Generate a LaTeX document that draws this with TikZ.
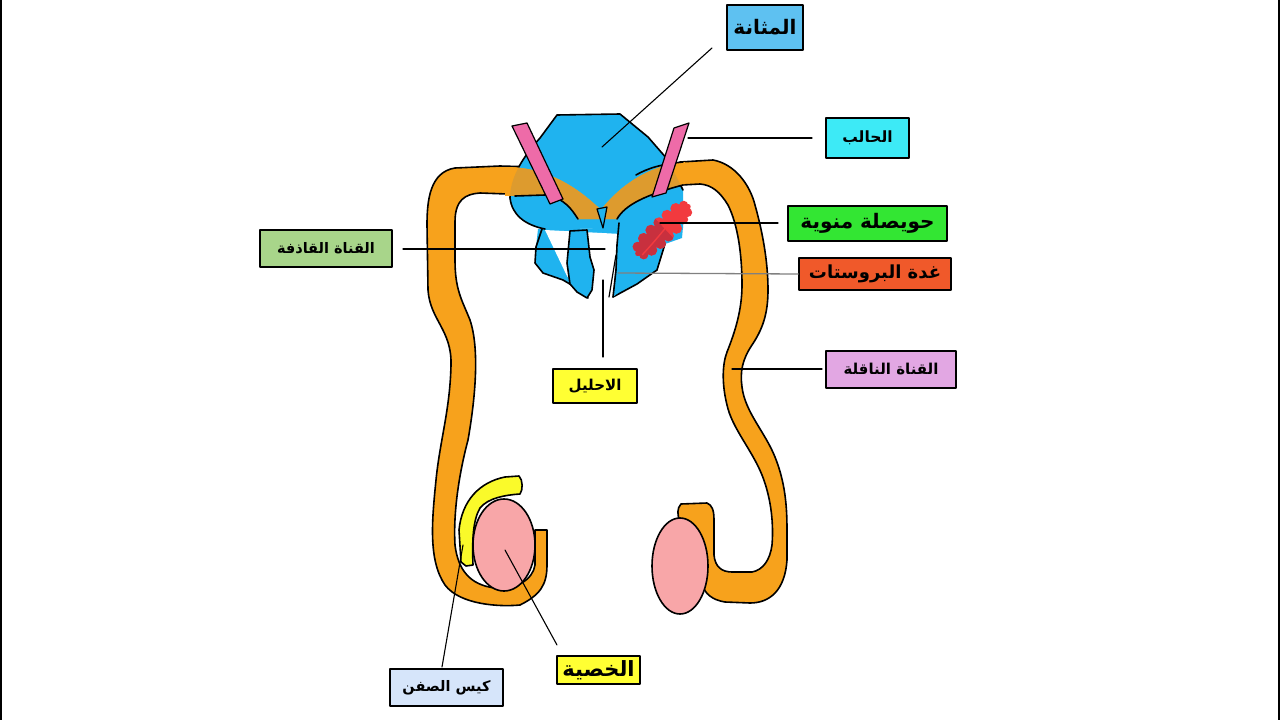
\documentclass[tikz,border=0pt]{standalone}
\usepackage{fontspec}
\newfontfamily\arabicfont[Script=Arabic]{DejaVu Sans}
\TeXXeTstate=1
\definecolor{orng}{HTML}{F7A21C}
\definecolor{orngD}{HTML}{DD9B2E}
\definecolor{blu}{HTML}{1FB3EF}
\definecolor{pnk}{HTML}{EE6BA8}
\definecolor{tstc}{HTML}{F8A6A8}
\definecolor{ylw}{HTML}{FAFA2A}
\definecolor{redA}{HTML}{F23A3E}
\definecolor{redB}{HTML}{C8303E}
\definecolor{cBladder}{HTML}{5EC1F1}
\definecolor{cUreter}{HTML}{3DEAF6}
\definecolor{cVes}{HTML}{33E633}
\definecolor{cPro}{HTML}{F0592A}
\definecolor{cEj}{HTML}{A8D58A}
\definecolor{cYel}{HTML}{FFFF33}
\definecolor{cVas}{HTML}{E2A7E3}
\definecolor{cScr}{HTML}{D6E5FA}
\newcommand\vesshape{(0,0) ellipse [x radius=37, y radius=8]
 (-30,-5) circle [radius=5] (-20,-7) circle [radius=5.5] (-9,-8) circle [radius=5.5]
 (2,-8) circle [radius=5.5] (13,-8) circle [radius=5.5] (24,-7) circle [radius=5.5] (32,-4) circle [radius=4.5]
 (-31,5) circle [radius=4.5] (-22,7) circle [radius=5.5] (-11,8) circle [radius=5.5]
 (0,8) circle [radius=5.5] (11,8) circle [radius=5.5] (22,6) circle [radius=5] (30,4) circle [radius=4.5]}
\begin{document}
\begin{tikzpicture}[x=1pt,y=-1pt,line join=round,line cap=round,
  outl/.style={draw=black,line width=1.6pt},
  thin/.style={draw=black,line width=1.2pt},
  conn/.style={draw=black,line width=1.1pt},
  lbl/.style={draw=black,line width=1.5pt,inner sep=0pt,text=black}]
\useasboundingbox (0,0) rectangle (1280,720);
\fill[white] (0,0) rectangle (1280,720);
\draw[black,line width=2pt] (1,0) -- (1,720);
\draw[black,line width=2.5pt] (1279,0) -- (1279,720);

% left vas deferens
\path[fill=orng,outl] (535,167) -- (500,166) -- (455,168) .. controls (430,172) and (427,200) .. (427,225)
 -- (428,290) .. controls (430,320) and (452,330) .. (451,365)
 .. controls (450,410) and (440,440) .. (436,480)
 .. controls (432,520) and (428,560) .. (445,585)
 .. controls (460,605) and (500,607) .. (520,605)
 .. controls (540,595) and (547,585) .. (547,565) -- (547,530) -- (535,530) -- (535,565)
 .. controls (533,580) and (515,590) .. (495,588)
 .. controls (470,585) and (458,570) .. (455,545)
 .. controls (453,510) and (460,470) .. (468,440)
 .. controls (475,400) and (480,350) .. (470,320)
 .. controls (462,300) and (455,290) .. (455,260) -- (455,222)
 .. controls (455,200) and (465,194) .. (480,193) -- (535,195) -- cycle;

% right vas deferens
\path[fill=orng,outl] (680,162) -- (713,160) .. controls (735,164) and (750,185) .. (755,205)
 .. controls (762,230) and (768,260) .. (768,290) .. controls (768,315) and (762,330) .. (752,345)
 .. controls (742,360) and (740,372) .. (742,387) .. controls (745,412) and (765,432) .. (775,457)
 .. controls (785,482) and (787,505) .. (787,530) -- (787,560)
 .. controls (785,590) and (770,603) .. (750,603) -- (725,602)
 .. controls (712,600) and (704,593) .. (703,585) -- (700,535) -- (690,523) -- (680,521)
 .. controls (677,515) and (677,508) .. (681,504) -- (707,503)
 .. controls (712,505) and (714,510) .. (714,520) -- (714,555)
 .. controls (715,567) and (722,572) .. (732,572) -- (752,572)
 .. controls (763,570) and (770,560) .. (772,545) .. controls (774,520) and (770,495) .. (762,475)
 .. controls (752,450) and (732,428) .. (727,405) .. controls (722,385) and (722,365) .. (727,352)
 .. controls (735,332) and (742,310) .. (742,285) .. controls (742,255) and (738,225) .. (728,205)
 .. controls (720,192) and (712,185) .. (700,184) -- (682,185) -- cycle;

% bladder
\fill[blu] (545,229) .. controls (525,225) and (512,215) .. (510,198) .. controls (510,180) and (520,160) .. (540,138)
 -- (557,115) -- (620,114) -- (648,137) -- (668,160) -- (683,190) -- (683,228) -- cycle;
% prostate region
\fill[blu] (538,229) -- (683,227) -- (682,238) -- (665,244) -- (657,270) -- (637,284) -- (613,297) -- (600,299)
 -- (588,298) -- (580,290) -- (563,280) -- (543,273) -- (535,263) -- (536,247) -- cycle;
\fill[white] (545,230) -- (621,234) -- (621,240) -- (614,297) -- (600,301) -- (590,300) -- (567,276) -- cycle;
\draw[outl] (545,229) .. controls (525,225) and (512,215) .. (510,198) .. controls (510,180) and (520,160) .. (540,138)
 -- (557,115) -- (620,114) -- (648,137) -- (668,160) -- (683,190);
\draw[outl] (542,229) -- (536,247) -- (535,263) -- (543,273) -- (563,280) -- (580,290) -- (588,298);
\draw[outl] (665,244) -- (657,270) -- (637,284) -- (613,297);
% lobes
\path[fill=blu,outl] (570,231) -- (587,230) -- (590,257) -- (594,270) -- (592,290) -- (587,298) -- (577,292)
 -- (570,284) -- (567,263) -- cycle;
\fill[blu] (619,223) -- (625,223) -- (632,243) -- (633,267) -- (625,287) -- (613,297) -- (616,260) -- (618,240) -- cycle;
\draw[outl] (619,223) -- (617,245) -- (616,270) -- (613,297);
\draw[thin] (616,255) -- (609,297);

% ejaculatory ducts inside bladder
\newcommand\ductL{(505,167) .. controls (545,167) and (575,185) .. (601,210) -- (598,219) -- (578,219)
 .. controls (572,210) and (565,198) .. (545,195) -- (505,196) -- cycle}
\newcommand\ductR{(685,162) .. controls (650,165) and (620,185) .. (601,210) -- (598,219) -- (617,219)
 .. controls (625,205) and (645,195) .. (685,184) -- cycle}
\fill[orng] \ductL; \fill[orng] \ductR;
\begin{scope}
 \clip (545,229) .. controls (525,225) and (512,215) .. (510,198) .. controls (510,180) and (520,160) .. (540,138)
 -- (557,115) -- (620,114) -- (648,137) -- (668,160) -- (683,190) -- (683,228) -- cycle;
 \fill[orngD] \ductL; \fill[orngD] \ductR;
\end{scope}
\draw[outl] (515,196) -- (545,195) .. controls (565,198) and (572,210) .. (578,219);
\draw[outl] (617,219) .. controls (625,205) and (645,195) .. (683,185);
\draw[outl] (683,162) .. controls (662,164) and (648,168) .. (636,175);
\path[fill=blu,thin] (597,209) -- (607,207) -- (603,228) -- cycle;

% ureters
\path[fill=pnk,thin] (512,126) -- (527,123) -- (563,199) -- (550,204) -- cycle;
\path[fill=pnk,thin] (674,128) -- (689,123) -- (666,193) -- (652,197) -- cycle;

% seminal vesicle
\begin{scope}[shift={(663,230)},rotate=43]
 \fill[redA] \vesshape;
 \begin{scope}
  \clip (-45,-25) rectangle (2,25);
  \fill[redB] \vesshape;
 \end{scope}
 \draw[redA,line width=1.4pt] (-32,4) .. controls (-5,2) and (10,-1) .. (34,-4);
\end{scope}

% scrotal crescent and testes
\path[fill=ylw,outl] (461,562) -- (459,530) .. controls (462,500) and (480,482) .. (505,477) -- (519,476)
 .. controls (523,480) and (523,490) .. (520,494) .. controls (505,495) and (488,498) .. (480,508)
 .. controls (473,520) and (472,540) .. (473,565) -- (466,566) -- cycle;
\path[fill=tstc,outl] (504,545) ellipse [x radius=31, y radius=46];
\path[fill=tstc,outl] (680,566) ellipse [x radius=28, y radius=48];

% anatomy points and free ends
\coordinate (pBladder) at (602,147);  \coordinate (eBladder) at (712,48);
\coordinate (pUreter) at (688,138);   \coordinate (eUreter) at (812,138);
\coordinate (pVes) at (660,223);      \coordinate (eVes) at (778,223);
\coordinate (pPro) at (618,273);
\coordinate (pEj) at (605,249);       \coordinate (eEj) at (403,249);
\coordinate (pUre) at (603,280);      \coordinate (eUre) at (603,357);
\coordinate (pVas) at (732,369);      \coordinate (eVas) at (822,369);
\coordinate (pTes) at (505,550);      \coordinate (eTes) at (557,645);
\coordinate (pScr) at (463,545);      \coordinate (eScr) at (442,667);

% labels
\node[lbl,fill=cBladder,minimum width=76pt,minimum height=45pt,font=\arabicfont\bfseries\fontsize{20}{22}\selectfont] (bladderL) at (765,27.5) {\beginR المثانة\endR};
\node[lbl,fill=cUreter,minimum width=83pt,minimum height=40pt,font=\arabicfont\bfseries\fontsize{15.5}{17}\selectfont] (ureterL) at (867.5,138) {\beginR الحالب\endR};
\node[lbl,fill=cVes,minimum width=159pt,minimum height=35pt,font=\arabicfont\bfseries\fontsize{20}{22}\selectfont] (vesL) at (867.5,223.5) {\beginR حويصلة منوية\endR};
\node[lbl,fill=cPro,minimum width=152pt,minimum height=32pt,font=\arabicfont\bfseries\fontsize{18}{20}\selectfont] (proL) at (875,274) {\beginR غدة البروستات\endR};
\node[lbl,fill=cEj,minimum width=132pt,minimum height=37pt,font=\arabicfont\bfseries\fontsize{14.5}{16}\selectfont] (ejL) at (326,248.5) {\beginR القناة القاذفة\endR};
\node[lbl,fill=cYel,minimum width=84pt,minimum height=34pt,font=\arabicfont\bfseries\fontsize{15}{17}\selectfont] (ureL) at (595,386) {\beginR الاحليل\endR};
\node[lbl,fill=cVas,minimum width=130pt,minimum height=37pt,font=\arabicfont\bfseries\fontsize{15}{17}\selectfont] (vasL) at (891,369.5) {\beginR القناة الناقلة\endR};
\node[lbl,fill=cYel,minimum width=83pt,minimum height=28pt,font=\arabicfont\bfseries\fontsize{21}{23}\selectfont] (tesL) at (598.5,670) {\beginR الخصية\endR};
\node[lbl,fill=cScr,minimum width=113pt,minimum height=37pt,font=\arabicfont\bfseries\fontsize{14.5}{16}\selectfont] (scrL) at (446.5,687.5) {\beginR كيس الصفن\endR};

% connectors
\draw[conn] (pBladder) -- (eBladder);
\draw[conn] (pUreter) -- (eUreter);
\draw[conn] (pVes) -- (eVes);
\draw[draw=gray,line width=1.3pt] (pPro) -- (proL.west);
\draw[conn] (pEj) -- (eEj);
\draw[conn] (pUre) -- (eUre);
\draw[conn] (pVas) -- (eVas);
\draw[conn] (pTes) -- (eTes);
\draw[conn] (pScr) -- (eScr);
\end{tikzpicture}
\end{document}
